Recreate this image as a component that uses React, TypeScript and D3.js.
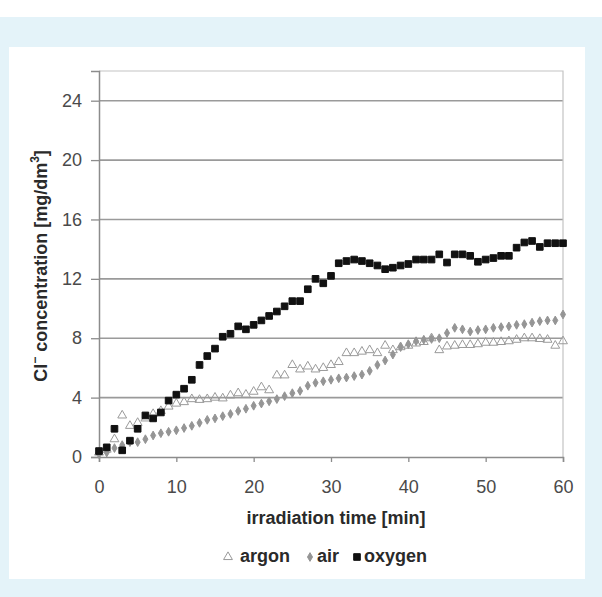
import * as d3 from 'd3';
import React, {useEffect} from 'react';

// irradiation time in minutes, one reading per minute
const minutes = d3.range(0, 61);

const argon = [
  0.3, 0.5, 1.2, 2.8, 2.1, 2.3, 2.6, 2.9, 3.1, 3.4,
  3.6, 3.7, 3.9, 3.85, 3.9, 4.0, 3.95, 4.15, 4.3, 4.2,
  4.4, 4.7, 4.5, 5.5, 5.5, 6.2, 5.9, 6.1, 5.9, 6.0,
  6.2, 6.4, 7.0, 7.0, 7.1, 7.2, 7.0, 7.5, 7.2, 7.4,
  7.5, 7.65, 7.75, 8.0, 7.2, 7.45, 7.5, 7.55, 7.55, 7.6,
  7.7, 7.7, 7.75, 7.8, 7.9, 8.0, 8.0, 7.95, 7.9, 7.5,
  7.8
];

const air = [
  0.2, 0.3, 0.6, 0.8, 1.0, 1.0, 1.2, 1.45, 1.6, 1.7,
  1.8, 1.95, 2.1, 2.3, 2.5, 2.6, 2.75, 2.9, 3.1, 3.25,
  3.45, 3.6, 3.75, 3.9, 4.1, 4.3, 4.45, 4.8, 5.0, 5.1,
  5.2, 5.3, 5.35, 5.45, 5.55, 5.8, 6.2, 6.5, 6.9, 7.4,
  7.6, 7.8, 7.9, 7.95, 8.0, 8.35, 8.7, 8.6, 8.45, 8.55,
  8.6, 8.7, 8.75, 8.8, 8.9, 8.95, 9.05, 9.15, 9.2, 9.2,
  9.6
];

const oxygen = [
  0.4, 0.65, 1.9, 0.45, 1.1, 1.9, 2.8, 2.6, 3.0, 3.8,
  4.2, 4.6, 5.2, 6.2, 6.8, 7.3, 8.1, 8.3, 8.8, 8.6,
  8.9, 9.2, 9.5, 9.8, 10.15, 10.5, 10.5, 11.3, 12.0, 11.7,
  12.2, 13.05, 13.2, 13.3, 13.2, 13.05, 12.9, 12.65, 12.75, 12.9,
  13.0, 13.3, 13.3, 13.3, 13.65, 13.1, 13.65, 13.65, 13.55, 13.15,
  13.3, 13.4, 13.55, 13.55, 14.1, 14.45, 14.55, 14.15, 14.4, 14.4,
  14.4
];

const xTicks = [0, 10, 20, 30, 40, 50, 60];
const yTicks = [0, 4, 8, 12, 16, 20, 24];

const font = "'Liberation Sans', Arial, sans-serif";

export default function App() {
  const chartRef = React.useRef<SVGSVGElement>(null);

  useEffect(() => {
    drawChart();
  }, []);

  function drawChart() {
    const W = 602, H = 597;
    const svg = d3.select(chartRef.current);
    svg.selectAll('*').remove();

    // page background: white strip, light blue frame, white panel
    svg.append('rect').attr('width', W).attr('height', H).attr('fill', '#e4f3f9');
    svg.append('rect').attr('width', W).attr('height', 17).attr('fill', '#ffffff');
    svg.append('rect')
      .attr('x', 9).attr('y', 47).attr('width', 576).attr('height', 532)
      .attr('fill', '#ffffff');

    const margin = {top: 71, left: 99, right: 39, bottom: 140};
    const width = W - margin.left - margin.right,
      height = H - margin.top - margin.bottom;

    const g = svg.append('g')
      .attr('transform', 'translate(' + margin.left + ',' + margin.top + ')');

    const x = d3.scaleLinear().domain([0, 60]).range([0, width]);
    const y = d3.scaleLinear().domain([0, 26]).range([height, 0]);

    // gridlines
    g.append('g')
      .selectAll('line')
      .data(yTicks.filter(d => d > 0))
      .enter()
      .append('line')
      .attr('x1', 0).attr('x2', width)
      .attr('y1', d => y(d)).attr('y2', d => y(d))
      .attr('stroke', '#9a9a9a')
      .attr('stroke-width', 1.6);

    // plot frame (top and right)
    g.append('path')
      .attr('d', `M0,0H${width}V${height}`)
      .attr('fill', 'none')
      .attr('stroke', '#c4c4c4')
      .attr('stroke-width', 1.2);

    // x axis
    const xAxis = g.append('g')
      .attr('transform', 'translate(0,' + height + ')')
      .call(d3.axisBottom(x).tickValues(xTicks).tickSize(5).tickPadding(18).tickFormat(d => String(d)));
    xAxis.select('.domain').attr('stroke', '#8c8c8c').attr('stroke-width', 1.5);
    xAxis.selectAll('.tick line').attr('stroke', '#8c8c8c').attr('stroke-width', 1.3);
    xAxis.selectAll('.tick text')
      .attr('font-family', font).attr('font-size', 18).attr('fill', '#4a4a4a');

    // y axis
    const yAxis = g.append('g')
      .call(d3.axisLeft(y).tickValues(yTicks).tickSize(8).tickPadding(9).tickFormat(d => String(d)));
    yAxis.select('.domain').attr('stroke', '#8c8c8c').attr('stroke-width', 1.5);
    yAxis.selectAll('.tick line').attr('stroke', '#8c8c8c').attr('stroke-width', 1.3);
    yAxis.selectAll('.tick text')
      .attr('font-family', font).attr('font-size', 18).attr('fill', '#4a4a4a');

    // axis titles
    g.append('text')
      .attr('x', width / 2 + 5)
      .attr('y', height + 62)
      .attr('text-anchor', 'middle')
      .attr('dominant-baseline', 'middle')
      .attr('font-family', font).attr('font-size', 18).attr('font-weight', 'bold')
      .attr('fill', '#2a2a2a')
      .text('irradiation time [min]');

    const yTitle = g.append('text')
      .attr('transform', `translate(${-57},${height / 2 + 2}) rotate(-90)`)
      .attr('text-anchor', 'middle')
      .attr('dominant-baseline', 'middle')
      .attr('font-family', font).attr('font-size', 18).attr('font-weight', 'bold')
      .attr('fill', '#2a2a2a');
    yTitle.append('tspan').text('Cl');
    yTitle.append('tspan').attr('dy', -6).attr('font-size', 12).text('−');
    yTitle.append('tspan').attr('dy', 6).text(' concentration [mg/dm');
    yTitle.append('tspan').attr('dy', -6).attr('font-size', 12).text('3');
    yTitle.append('tspan').attr('dy', 6).text(']');

    // series
    const series = [
      {name: 'argon', values: argon, shape: d3.symbolTriangle, size: 34, fill: 'none', stroke: '#9a9a9a'},
      {name: 'air', values: air, shape: d3.symbolDiamond, size: 22, fill: '#959595', stroke: '#959595'},
      {name: 'oxygen', values: oxygen, shape: d3.symbolSquare, size: 44, fill: '#111111', stroke: '#111111'},
    ];

    series.forEach(s => {
      const sym = d3.symbol().type(s.shape).size(s.size);
      g.append('g')
        .selectAll('path')
        .data(minutes.map((t, i) => ({t, v: s.values[i]})))
        .enter()
        .append('path')
        .attr('d', sym)
        .attr('transform', d => `translate(${x(d.t)},${y(d.v)})`)
        .attr('fill', s.fill)
        .attr('stroke', s.stroke)
        .attr('stroke-width', 1);
    });

    // legend
    const legendY = 557;
    const legendItems = [
      {label: 'argon', mx: 228, tx: 240},
      {label: 'air', mx: 310, tx: 317},
      {label: 'oxygen', mx: 357, tx: 364},
    ];
    const legend = svg.append('g');
    legendItems.forEach((item, i) => {
      const s = series[i];
      legend.append('path')
        .attr('d', d3.symbol().type(s.shape).size(s.size)())
        .attr('transform', `translate(${item.mx},${legendY})`)
        .attr('fill', s.fill)
        .attr('stroke', s.stroke)
        .attr('stroke-width', 1);
      legend.append('text')
        .attr('x', item.tx)
        .attr('y', legendY)
        .attr('dominant-baseline', 'middle')
        .attr('font-family', font).attr('font-size', 18).attr('font-weight', 'bold')
        .attr('fill', '#2a2a2a')
        .text(item.label);
    });
  }

  return (
    <div style={{position: 'absolute', left: 0, top: 0}}>
      <svg ref={chartRef} width={602} height={597} style={{display: 'block'}}></svg>
    </div>
  );
}
